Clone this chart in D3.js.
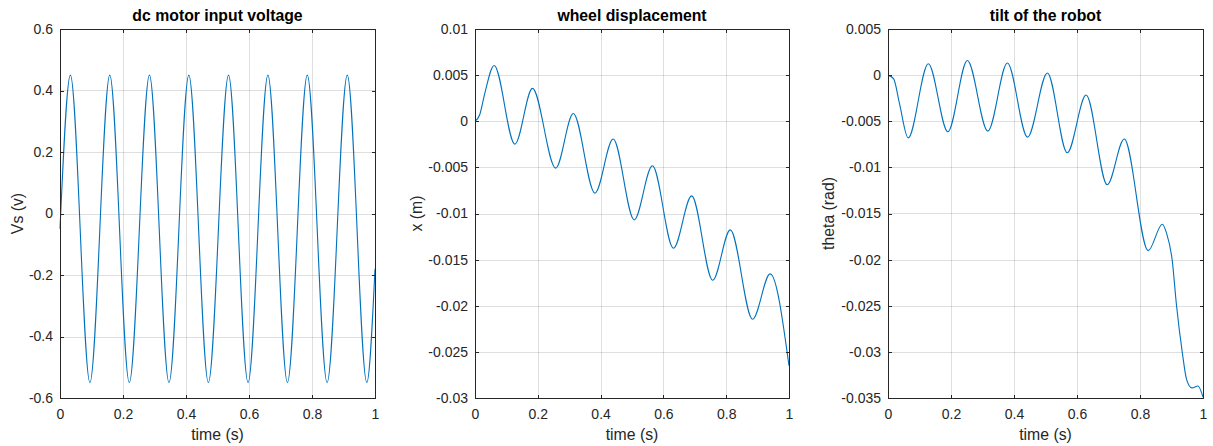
<!DOCTYPE html>
<html>
<head>
<meta charset="utf-8">
<script src="https://cdn.jsdelivr.net/npm/d3@7"></script>
<style>
  body { margin: 0; background: #fff; }
  svg { display: block; font-family: "Liberation Sans", Arial, Helvetica, sans-serif; }
  .tick text { fill: #262626; font-size: 14px; }
  .domain, .tick line { stroke: #262626; }
</style>
</head>
<body>
<svg width="1213" height="446"></svg>
<script>
// time axis shared by all three panels
var timeTicks = [0, 0.2, 0.4, 0.6, 0.8, 1];
var timeLabels = ["0", "0.2", "0.4", "0.6", "0.8", "1"];

// dc motor input voltage (peaks and troughs)
var vsTime  = [0, 0.033, 0.095, 0.158, 0.220, 0.284, 0.346, 0.409, 0.471, 0.535, 0.597, 0.660, 0.722, 0.785, 0.848, 0.912, 0.974, 1];
var vsValue = [-0.05, 0.45, -0.55, 0.45, -0.55, 0.45, -0.55, 0.45, -0.55, 0.45, -0.55, 0.45, -0.55, 0.45, -0.55, 0.45, -0.55, -0.18];
var vsTicks = [-0.6, -0.4, -0.2, 0, 0.2, 0.4, 0.6];
var vsLabels = ["-0.6", "-0.4", "-0.2", "0", "0.2", "0.4", "0.6"];

// wheel displacement
var xTime  = [0, 0.015, 0.031, 0.061, 0.127, 0.183, 0.257, 0.313, 0.382, 0.440, 0.507, 0.565, 0.632, 0.690, 0.757, 0.813, 0.884, 0.940, 1];
var xValue = [0, 0.0007, 0.0030, 0.00605, -0.00248, 0.00356, -0.00508, 0.00084, -0.00779, -0.00193, -0.01069, -0.00483, -0.01376, -0.00809, -0.01723, -0.01178, -0.02146, -0.01655, -0.0265];
var xTicks = [-0.03, -0.025, -0.02, -0.015, -0.01, -0.005, 0, 0.005, 0.01];
var xLabels = ["-0.03", "-0.025", "-0.02", "-0.015", "-0.01", "-0.005", "0", "0.005", "0.01"];

// tilt of the robot
var thTime  = [0, 0.018, 0.036, 0.064, 0.128, 0.190, 0.252, 0.317, 0.379, 0.443, 0.506, 0.569, 0.629, 0.696, 0.750, 0.826, 0.871, 0.884, 0.902, 0.916, 0.934, 0.948, 0.965, 0.984, 1];
var thValue = [0, -0.0004, -0.0030, -0.0068, 0.00124, -0.00614, 0.00159, -0.00607, 0.00131, -0.00672, 0.00023, -0.00842, -0.00216, -0.01189, -0.00693, -0.01902, -0.01616, -0.0171, -0.0200, -0.0250, -0.0300, -0.0330, -0.0339, -0.0337, -0.0349];
var thTicks = [-0.035, -0.03, -0.025, -0.02, -0.015, -0.01, -0.005, 0, 0.005];
var thLabels = ["-0.035", "-0.03", "-0.025", "-0.02", "-0.015", "-0.01", "-0.005", "0", "0.005"];

var panels = [
  {title: "dc motor input voltage", ylabel: "Vs (v)", t: vsTime, v: vsValue, ticks: vsTicks, labels: vsLabels, left: 60, right: 375, ylabX: 17},
  {title: "wheel displacement", ylabel: "x (m)", t: xTime, v: xValue, ticks: xTicks, labels: xLabels, left: 475, right: 789, ylabX: 416},
  {title: "tilt of the robot", ylabel: "theta (rad)", t: thTime, v: thValue, ticks: thTicks, labels: thLabels, left: 888, right: 1203, ylabX: 828}
];

var svg = d3.select("svg"),
    plotTop = 29, plotBottom = 398, tickLen = 3.5;

panels.forEach(function(p) {
  var x = d3.scaleLinear().domain([0, 1]).range([p.left, p.right]);
  var y = d3.scaleLinear().domain(d3.extent(p.ticks)).range([plotBottom, plotTop]);
  var g = svg.append("g");

  // grid
  g.append("g").selectAll("line")
    .data(timeTicks.slice(1, -1))
    .enter().append("line")
      .attr("x1", function(d) { return Math.round(x(d)) + 0.5; })
      .attr("x2", function(d) { return Math.round(x(d)) + 0.5; })
      .attr("y1", plotTop).attr("y2", plotBottom)
      .attr("stroke", "#262626").attr("stroke-opacity", 0.15);
  g.append("g").selectAll("line")
    .data(p.ticks.slice(1, -1))
    .enter().append("line")
      .attr("y1", function(d) { return Math.round(y(d)) + 0.5; })
      .attr("y2", function(d) { return Math.round(y(d)) + 0.5; })
      .attr("x1", p.left).attr("x2", p.right)
      .attr("stroke", "#262626").attr("stroke-opacity", 0.15);

  // data
  var line = d3.line()
      .x(function(d, i) { return x(p.t[i]); })
      .y(function(d) { return y(d); })
      .curve(d3.curveMonotoneX);
  g.append("path")
      .attr("d", line(p.v))
      .attr("fill", "none")
      .attr("stroke", "#0072BD")
      .attr("stroke-width", 1.1);

  // axes, ticks inside on all four sides
  g.append("g")
      .attr("transform", "translate(0," + plotBottom + ")")
      .call(d3.axisBottom(x).tickValues(timeTicks).tickFormat(function(d, i) { return timeLabels[i]; })
        .tickSizeInner(-tickLen).tickSizeOuter(0).tickPadding(11));
  g.append("g")
      .attr("transform", "translate(0," + plotTop + ")")
      .call(d3.axisTop(x).tickValues(timeTicks).tickFormat("").tickSizeInner(-tickLen).tickSizeOuter(0));
  g.append("g")
      .attr("transform", "translate(" + p.left + ",0)")
      .call(d3.axisLeft(y).tickValues(p.ticks).tickFormat(function(d, i) { return p.labels[i]; })
        .tickSizeInner(-tickLen).tickSizeOuter(0).tickPadding(7));
  g.append("g")
      .attr("transform", "translate(" + p.right + ",0)")
      .call(d3.axisRight(y).tickValues(p.ticks).tickFormat("").tickSizeInner(-tickLen).tickSizeOuter(0));

  g.selectAll(".domain, .tick line").attr("shape-rendering", "crispEdges");

  g.append("text")
      .attr("x", (p.left + p.right) / 2).attr("y", 21)
      .attr("text-anchor", "middle")
      .attr("font-weight", "bold").attr("font-size", "15.8px").attr("fill", "#000")
      .text(p.title);
  g.append("text")
      .attr("x", (p.left + p.right) / 2).attr("y", 440)
      .attr("text-anchor", "middle")
      .attr("font-size", "15.8px").attr("fill", "#262626")
      .text("time (s)");
  g.append("text")
      .attr("transform", "translate(" + p.ylabX + "," + (plotTop + plotBottom) / 2 + ") rotate(-90)")
      .attr("text-anchor", "middle").attr("dy", "0.35em")
      .attr("font-size", "15.8px").attr("fill", "#262626")
      .text(p.ylabel);
});
</script>
</body>
</html>
